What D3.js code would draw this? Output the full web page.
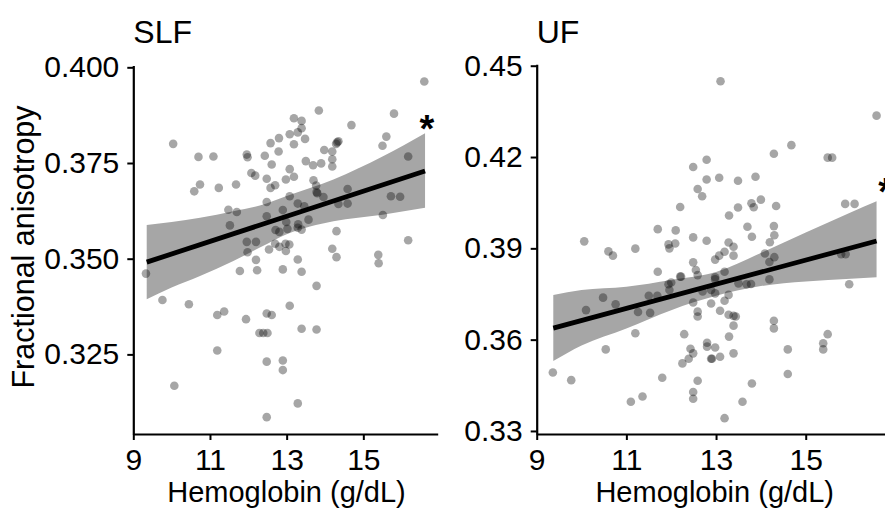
<!DOCTYPE html>
<html><head><meta charset="utf-8">
<script src="https://cdn.jsdelivr.net/npm/d3@7"></script>
<style>
html,body{margin:0;padding:0;background:#fff;}
svg{display:block;font-family:"Liberation Sans",Arial,Helvetica,sans-serif;}
</style></head>
<body><svg id="c" width="885" height="508"></svg>
<script>
// ---------- data ----------
const panelTitles = ["SLF", "UF"];
const xLabel = "Hemoglobin (g/dL)";
const yLabel = "Fractional anisotropy";
const xTicks = [9, 11, 13, 15];
const slfYTicks = [0.325, 0.350, 0.375, 0.400];
const ufYTicks = [0.33, 0.36, 0.39, 0.42, 0.45];

const slfPoints = [
[16.59,0.3963],[13.84,0.3887],[15.80,0.3879],[13.19,0.3867],[13.39,0.3860],[13.39,0.3841],[13.29,0.3830],[14.69,0.3849],
[13.08,0.3825],[12.80,0.3815],[13.48,0.3813],[15.60,0.3819],[15.50,0.3795],[12.58,0.3802],[13.19,0.3799],[14.32,0.3804],
[14.29,0.3800],[10.04,0.3800],[13.98,0.3784],[14.19,0.3780],[12.79,0.3780],[11.96,0.3772],[11.98,0.3765],[12.43,0.3769],
[10.70,0.3766],[11.09,0.3767],[12.61,0.3746],[14.19,0.3760],[13.50,0.3755],[13.69,0.3744],[13.90,0.3749],[14.19,0.3741],
[13.08,0.3734],[12.08,0.3724],[12.18,0.3717],[13.19,0.3714],[12.48,0.3709],[12.98,0.3707],[13.70,0.3705],[12.70,0.3692],
[12.58,0.3685],[11.68,0.3694],[10.74,0.3694],[10.59,0.3676],[11.23,0.3685],[13.77,0.3691],[13.78,0.3674],[13.80,0.3671],
[14.59,0.3682],[14.59,0.3644],[14.35,0.3643],[15.72,0.3663],[16.17,0.3767],[13.08,0.3663],[13.29,0.3644],[12.48,0.3648],
[13.46,0.3637],[11.48,0.3628],[11.70,0.3622],[12.90,0.3627],[12.48,0.3611],[13.57,0.3602],[15.51,0.3614],[11.52,0.3587],
[12.71,0.3575],[13.02,0.3578],[13.29,0.3581],[13.39,0.3576],[12.81,0.3570],[14.30,0.3572],[11.96,0.3544],[12.20,0.3544],
[12.70,0.3539],[12.97,0.3539],[13.07,0.3537],[12.54,0.3524],[12.81,0.3531],[12.98,0.3520],[11.98,0.3517],[14.19,0.3526],
[14.30,0.3504],[15.39,0.3510],[15.40,0.3488],[16.17,0.3548],[15.96,0.3662],[12.20,0.3497],[13.29,0.3498],[11.78,0.3468],
[12.23,0.3470],[12.90,0.3472],[13.39,0.3466],[9.33,0.3461],[13.78,0.3429],[9.76,0.3392],[10.45,0.3381],[13.08,0.3377],
[11.19,0.3353],[11.37,0.3362],[12.48,0.3357],[12.61,0.3353],[11.94,0.3342],[12.29,0.3306],[12.39,0.3306],[12.50,0.3306],
[13.39,0.3317],[13.78,0.3315],[11.19,0.3260],[12.48,0.3231],[12.90,0.3234],[12.90,0.3209],[10.07,0.3168],[13.29,0.3122],
[12.48,0.3086],[14.35,0.3807],[13.30,0.3590],[12.99,0.3596],[13.96,0.3661]
];
const slfFitX = [9.35, 16.61];
const slfFitY = [0.3491, 0.3729];
const slfBandX  = [9.35, 10.0, 10.74, 11.61, 12.3, 13.0, 14.22, 15.5, 16.61];
const slfBandHi = [0.3588, 0.3596, 0.3607, 0.3624, 0.3639, 0.3664, 0.3707, 0.3767, 0.3828];
const slfBandLo = [0.3394, 0.3425, 0.3455, 0.3494, 0.3529, 0.3564, 0.3598, 0.3615, 0.3633];

const ufPoints = [
[13.10,0.4449],[16.58,0.4336],[14.68,0.4239],[14.29,0.4211],[15.49,0.4198],[15.59,0.4198],[12.79,0.4191],[12.49,0.4167],
[13.07,0.4132],[12.79,0.4126],[13.88,0.4135],[13.49,0.4122],[12.59,0.4095],[12.69,0.4071],[14.00,0.4060],[13.79,0.4048],
[13.84,0.4035],[15.88,0.4046],[16.09,0.4046],[14.34,0.4039],[12.20,0.4036],[13.49,0.4034],[13.29,0.4008],[11.70,0.3963],
[12.10,0.3959],[13.70,0.3971],[14.29,0.3973],[13.80,0.3938],[14.30,0.3943],[12.49,0.3936],[12.79,0.3925],[12.09,0.3916],
[11.94,0.3913],[11.96,0.3900],[13.28,0.3919],[10.06,0.3923],[11.20,0.3899],[10.60,0.3890],[10.70,0.3876],[13.39,0.3905],
[13.39,0.3876],[13.19,0.3889],[13.07,0.3876],[12.98,0.3863],[14.09,0.3883],[14.20,0.3920],[14.30,0.3871],[14.19,0.3855],
[15.79,0.3881],[15.89,0.3881],[12.49,0.3854],[11.70,0.3823],[12.55,0.3829],[12.59,0.3812],[12.20,0.3807],[12.22,0.3807],
[13.19,0.3823],[12.98,0.3805],[12.98,0.3798],[11.94,0.3782],[12.00,0.3788],[13.50,0.3785],[13.68,0.3782],[13.78,0.3783],
[14.19,0.3798],[15.97,0.3782],[11.96,0.3763],[12.89,0.3763],[13.28,0.3747],[12.70,0.3758],[12.98,0.3752],[10.48,0.3738],
[11.50,0.3744],[11.69,0.3744],[13.19,0.3728],[12.49,0.3722],[10.76,0.3716],[12.89,0.3719],[10.10,0.3697],[11.26,0.3691],
[11.53,0.3688],[13.09,0.3695],[12.59,0.3692],[12.59,0.3676],[13.28,0.3682],[13.39,0.3678],[13.44,0.3676],[13.39,0.3646],
[14.29,0.3662],[14.29,0.3637],[11.20,0.3621],[12.29,0.3618],[13.29,0.3610],[15.49,0.3618],[10.54,0.3568],[12.80,0.3590],
[12.80,0.3577],[12.98,0.3574],[15.39,0.3588],[15.39,0.3568],[14.60,0.3568],[12.43,0.3570],[12.49,0.3555],[13.39,0.3555],
[12.39,0.3537],[12.89,0.3537],[12.91,0.3537],[13.09,0.3544],[12.25,0.3522],[9.36,0.3492],[9.77,0.3467],[11.80,0.3475],
[12.59,0.3465],[13.80,0.3456],[14.60,0.3487],[12.49,0.3428],[12.49,0.3406],[11.36,0.3413],[11.10,0.3396],[13.59,0.3396],
[13.19,0.3342]
];
const ufFitX = [9.37, 16.58];
const ufFitY = [0.3638, 0.3924];
const ufBandX  = [9.37, 10, 11, 12, 13, 14, 15, 16, 16.58];
const ufBandHi = [0.3747, 0.3763, 0.3774, 0.3796, 0.3822, 0.3885, 0.3952, 0.4018, 0.4055];
const ufBandLo = [0.3530, 0.3581, 0.3637, 0.3697, 0.3744, 0.3776, 0.3791, 0.3800, 0.3805];

const starPos = [[16.66, 0.3816], [16.78, 0.4055]];

// ---------- drawing ----------
const svg = d3.select("#c");
const font = '"Liberation Sans",Arial,Helvetica,sans-serif';

const panels = [
  {title: panelTitles[0], pts: slfPoints, fx: slfFitX, fy: slfFitY, bx: slfBandX, bh: slfBandHi, bl: slfBandLo,
   x: d3.scaleLinear().domain([9, 16.94]).range([133.3, 437.7]),
   y: d3.scaleLinear().domain([0.3042, 0.4005]).range([434, 65.4]),
   yt: slfYTicks, yf: d3.format(".3f"), star: starPos[0]},
  {title: panelTitles[1], pts: ufPoints, fx: ufFitX, fy: ufFitY, bx: ufBandX, bh: ufBandHi, bl: ufBandLo,
   x: d3.scaleLinear().domain([9, 16.94]).range([536.7, 892.7]),
   y: d3.scaleLinear().domain([0.329, 0.4505]).range([434, 64.2]),
   yt: ufYTicks, yf: d3.format(".2f"), star: starPos[1]}
];

panels.forEach((p, i) => {
  const g = svg.append("g");
  const band = p.bx.map((d, k) => ({x: d, lo: p.bl[k], hi: p.bh[k]}));
  g.append("path").datum(band)
    .attr("fill", "#a6a6a6")
    .attr("d", d3.area().x(d => p.x(d.x)).y0(d => p.y(d.lo)).y1(d => p.y(d.hi)).curve(d3.curveMonotoneX));

  g.append("g").selectAll("circle").data(p.pts).join("circle")
    .attr("cx", d => p.x(d[0])).attr("cy", d => p.y(d[1])).attr("r", 4.3)
    .attr("fill", "#000").attr("fill-opacity", 0.35);

  const fit = p.fx.map((d, k) => [d, p.fy[k]]);
  g.append("path").datum(fit)
    .attr("fill", "none").attr("stroke", "#000").attr("stroke-width", 4.8)
    .attr("d", d3.line().x(d => p.x(d[0])).y(d => p.y(d[1])));

  const xAxis = g.append("g").attr("transform", `translate(0,${p.y.range()[0]})`)
    .call(d3.axisBottom(p.x).tickValues(xTicks).tickFormat(d3.format("d")).tickSize(6).tickSizeOuter(0).tickPadding(9));
  const yAxis = g.append("g").attr("transform", `translate(${p.x.range()[0]},0)`)
    .call(d3.axisLeft(p.y).tickValues(p.yt).tickFormat(p.yf).tickSize(6).tickSizeOuter(0).tickPadding(8));
  [xAxis, yAxis].forEach(a => {
    a.select(".domain").attr("stroke", "#000").attr("stroke-width", 2.2);
    a.selectAll(".tick line").attr("stroke", "#000").attr("stroke-width", 2);
    a.selectAll(".tick text").attr("fill", "#000").style("font-family", font).style("font-size", "30px");
  });

  g.append("text").attr("x", p.x.range()[0]).attr("y", 43)
    .style("font-family", font).style("font-size", "32px").attr("fill", "#000").text(p.title);

  g.append("text").attr("x", (p.x(9) + p.x(16.94)) / 2 + (i === 0 ? 1 : 0)).attr("y", 502)
    .attr("text-anchor", "middle").style("font-family", font).style("font-size", "29px").attr("fill", "#000")
    .text(xLabel);

  g.append("text").attr("x", p.x(p.star[0])).attr("y", p.y(p.star[1]) + 4)
    .attr("text-anchor", "middle").style("font-family", font).style("font-size", "38px").style("font-weight", "bold")
    .attr("fill", "#000").text("*");
});

svg.append("text").attr("transform", "translate(34,247) rotate(-90)")
  .attr("text-anchor", "middle").style("font-family", font).style("font-size", "30.5px").attr("fill", "#000")
  .text(yLabel);
</script></body></html>
